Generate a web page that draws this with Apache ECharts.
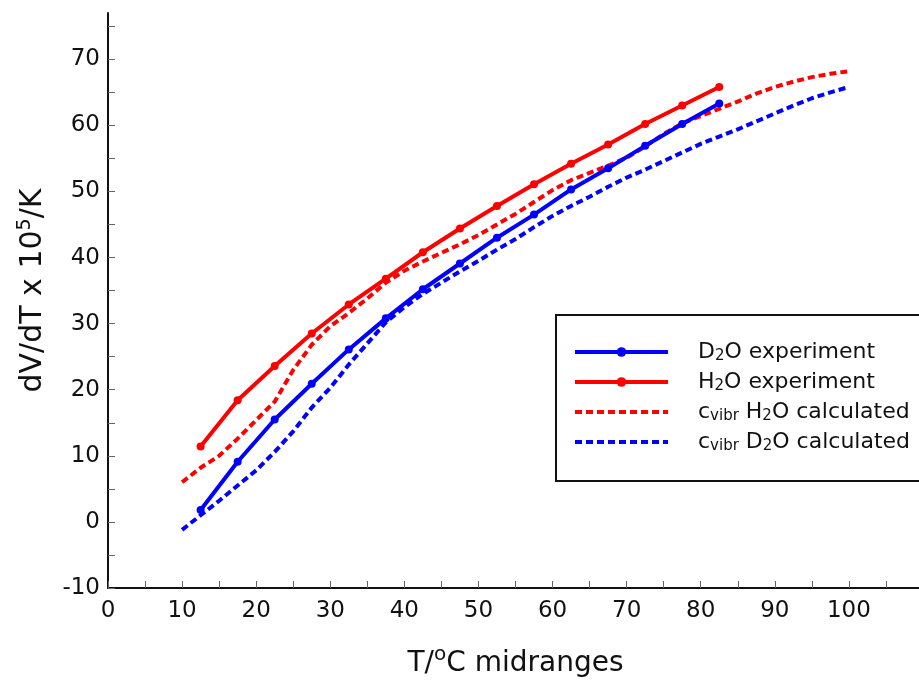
<!DOCTYPE html>
<html>
<head>
<meta charset="utf-8">
<script src="https://cdn.jsdelivr.net/npm/echarts@6/dist/echarts.min.js"></script>
<style>
html,body{margin:0;padding:0;background:#fff;}
#chart{width:919px;height:681px;}
</style>
</head>
<body>
<div id="chart"></div>
<script>
// Experimental midrange temperatures (°C)
const expT = [12.5, 17.5, 22.5, 27.5, 32.5, 37.5, 42.5, 47.5, 52.5, 57.5, 62.5, 67.5, 72.5, 77.5, 82.5];
const d2oExp = [1.8, 9.1, 15.5, 20.9, 26.1, 30.8, 35.2, 39.1, 43.0, 46.5, 50.3, 53.5, 56.9, 60.2, 63.3];
const h2oExp = [11.4, 18.4, 23.6, 28.5, 32.9, 36.8, 40.8, 44.4, 47.8, 51.1, 54.2, 57.1, 60.2, 63.0, 65.8];

// Calculated curves
const calcT = [10, 12.5, 15, 17.5, 20, 22.5, 25, 27.5, 30, 32.5, 35, 37.5, 40, 42.5, 45, 47.5, 50, 52.5, 55, 57.5, 60, 62.5, 65, 67.5, 70, 72.5, 75, 77.5, 80, 82.5, 85, 87.5, 90, 92.5, 95, 97.5, 100];
const h2oCalc = [6.0, 8.2, 10.0, 12.6, 15.4, 18.2, 23.0, 26.8, 29.6, 31.6, 33.8, 36.2, 38.0, 39.4, 40.7, 42.0, 43.4, 45.0, 46.6, 48.4, 50.2, 51.7, 52.8, 53.9, 55.1, 56.8, 58.7, 60.3, 61.4, 62.5, 63.6, 64.8, 65.8, 66.6, 67.3, 67.8, 68.2];
const d2oCalc = [-1.2, 1.0, 3.2, 5.5, 7.8, 10.6, 13.7, 17.3, 20.3, 23.8, 27.0, 30.2, 32.5, 34.5, 36.2, 37.9, 39.5, 41.2, 42.8, 44.6, 46.3, 47.8, 49.2, 50.7, 52.1, 53.3, 54.6, 55.9, 57.2, 58.3, 59.4, 60.6, 61.8, 63.0, 64.1, 65.0, 65.8];

// Axis ticks / labels
const xTickValues = [0,5,10,15,20,25,30,35,40,45,50,55,60,65,70,75,80,85,90,95,100,105];
const xLabelValues = [0,10,20,30,40,50,60,70,80,90,100];
const yTickValues = [-10,-5,0,5,10,15,20,25,30,35,40,45,50,55,60,65,70,75];
const yLabelValues = [-10,0,10,20,30,40,50,60,70];

const seriesNames = ['D2O experiment', 'H2O experiment', 'cvibr H2O calculated', 'cvibr D2O calculated'];
const legendRich = {
  'D2O experiment': '{t|D}{s|2}{t|O experiment}',
  'H2O experiment': '{t|H}{s|2}{t|O experiment}',
  'cvibr H2O calculated': '{t|c}{s|vibr}{t| H}{s|2}{t|O calculated}',
  'cvibr D2O calculated': '{t|c}{s|vibr}{t| D}{s|2}{t|O calculated}'
};

function zip(xs, ys){ return xs.map((x,i)=>[x, ys[i]]); }

const FONT = '"DejaVu Sans", "Liberation Sans", Arial, sans-serif';
const TXT = '#111';
const chart = echarts.init(document.getElementById('chart'), null, {renderer:'canvas'});
chart.setOption({
  animation: false,
  backgroundColor: '#fff',
  textStyle: {fontFamily: FONT},
  grid: {left: 108, top: 13, right: -4, bottom: 93, containLabel: false, outerBoundsMode: 'none'},
  legend: {
    data: [
      {name: seriesNames[0]},
      {name: seriesNames[1]},
      {name: seriesNames[2], itemStyle: {color: 'rgba(0,0,0,0)', borderWidth: 0}},
      {name: seriesNames[3], itemStyle: {color: 'rgba(0,0,0,0)', borderWidth: 0}}
    ],
    orient: 'vertical',
    left: 556, top: 315,
    padding: [25, 30, 27, 17],
    itemGap: 6,
    itemWidth: 93, itemHeight: 12,
    borderColor: '#111', borderWidth: 2,
    lineStyle: {width: 4},
    formatter: n => legendRich[n],
    textStyle: {
      fontFamily: FONT, color: TXT, padding: [0,0,0,25],
      rich: {
        t: {fontSize: 22, lineHeight: 20, fontFamily: FONT, color: TXT},
        s: {fontSize: 15, lineHeight: 14, fontFamily: FONT, color: TXT, padding: [9,0,0,0]}
      }
    }
  },
  xAxis: {
    type: 'value', min: 0, max: 110,
    name: '{a|T/}{b|o}{a|C midranges}',
    nameLocation: 'middle', nameGap: 57,
    nameTextStyle: {
      rich: {
        a: {fontSize: 28, fontFamily: FONT, color: TXT},
        b: {fontSize: 20, fontFamily: FONT, color: TXT, padding: [0,0,18,0]}
      }
    },
    axisLine: {show: true, onZero: false, lineStyle: {color: '#111', width: 2}},
    axisTick: {show: true, inside: true, length: 7, customValues: xTickValues, lineStyle: {color: '#666', width: 1}},
    axisLabel: {customValues: xLabelValues, fontSize: 23, color: TXT, margin: 12, fontFamily: FONT},
    splitLine: {show: false}
  },
  yAxis: {
    type: 'value', min: -10, max: 77,
    name: '{a|dV/dT x 10}{b|5}{a|/K}',
    nameLocation: 'middle', nameRotate: 90, nameGap: 58,
    nameTextStyle: {
      padding: [0, 0, 0, 20],
      rich: {
        a: {fontSize: 30, fontFamily: FONT, color: TXT},
        b: {fontSize: 19, fontFamily: FONT, color: TXT, padding: [0,0,15,0]}
      }
    },
    axisLine: {show: true, onZero: false, lineStyle: {color: '#111', width: 2}},
    axisTick: {show: true, inside: true, length: 7, customValues: yTickValues, lineStyle: {color: '#666', width: 1}},
    axisLabel: {customValues: yLabelValues, fontSize: 23, color: TXT, margin: 8, fontFamily: FONT},
    splitLine: {show: false}
  },
  series: [
    {name: seriesNames[0], type: 'line', data: zip(expT, d2oExp), color: '#0000ff',
     symbol: 'circle', symbolSize: 8, lineStyle: {width: 4, color: '#0000ff'}, itemStyle: {color: '#0000ff'}, z: 4},
    {name: seriesNames[1], type: 'line', data: zip(expT, h2oExp), color: '#ff0000',
     symbol: 'circle', symbolSize: 8, lineStyle: {width: 4, color: '#ff0000'}, itemStyle: {color: '#ff0000'}, z: 4},
    {name: seriesNames[2], type: 'line', data: zip(calcT, h2oCalc), color: '#ff0000',
     symbol: 'none', lineStyle: {width: 4, color: '#ff0000', type: [7,4]}, z: 3},
    {name: seriesNames[3], type: 'line', data: zip(calcT, d2oCalc), color: '#0000ff',
     symbol: 'none', lineStyle: {width: 4, color: '#0000ff', type: [7,4]}, z: 3}
  ]
});
</script>
</body>
</html>
